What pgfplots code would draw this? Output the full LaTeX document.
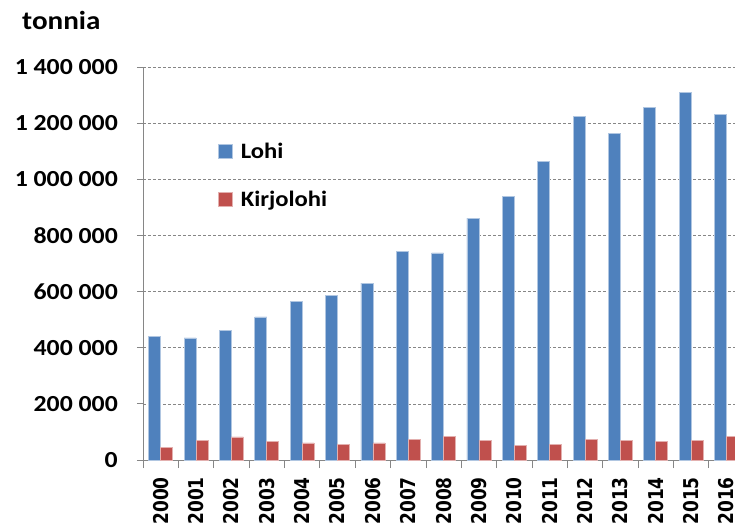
\documentclass[border=0pt]{standalone}
\usepackage{fontspec}
\setmainfont{Carlito}
\newfontfamily\yearfont{DejaVu Sans}
\usepackage{graphicx}
\usepackage{pgfplots}
\pgfplotsset{compat=1.18}
\definecolor{lohi}{HTML}{4F81BD}
\definecolor{kirjo}{HTML}{C0504D}
\definecolor{axisgray}{HTML}{868686}
\newcommand\sx[1]{\scalebox{1.12}[1]{#1}}
\newcommand\yl[1]{\scalebox{1}[1.2]{#1}}

\begin{document}
\begin{tikzpicture}
\begin{axis}[
  scale only axis, width=592pt, height=393pt,
  ybar=0pt, bar width=12pt,
  xmin=-0.5, xmax=16.24, ymin=0, ymax=1400000,
  scaled y ticks=false,
  axis lines*=left, axis line style={axisgray, line width=0.8pt},
  xtick={0,...,16},
  xticklabels={\yl{2000},\yl{2001},\yl{2002},\yl{2003},\yl{2004},\yl{2005},\yl{2006},\yl{2007},\yl{2008},\yl{2009},\yl{2010},\yl{2011},\yl{2012},\yl{2013},\yl{2014},\yl{2015},\yl{2016}},
  x tick label style={font=\yearfont\bfseries\fontsize{17}{20}\selectfont, rotate=90, anchor=east, inner sep=0pt, xshift=-11pt},
  major x tick style={draw=none},
  minor xtick={-0.5,0.5,...,15.5},
  minor x tick style={axisgray, line width=0.8pt},
  minor tick length=8pt,
  tick align=outside,
  ytick={0,200000,...,1400000},
  yticklabels={\sx{0},\sx{200 000},\sx{400 000},\sx{600 000},\sx{800 000},\sx{1 000 000},\sx{1 200 000},\sx{1 400 000}},
  y tick label style={font=\bfseries\fontsize{23}{27}\selectfont, anchor=east, inner sep=0pt, xshift=-19pt},
  major y tick style={axisgray, line width=0.8pt},
  major tick length=6pt,
  ymajorgrids, grid style={axisgray, densely dashed, line width=0.7pt},
  legend style={at={(0.1267,0.8066)}, anchor=north west, draw=none, fill=none, inner sep=0pt,
    font=\bfseries\fontsize{22}{26}\selectfont, row sep=31pt,
    nodes={inner sep=0pt, anchor=west}},
  legend cell align=left,
  legend image code/.code={\fill[#1] (0pt,-7pt) rectangle (14pt,7pt); \path (22pt,0pt);},
]
\addplot[fill=lohi, draw=lohi!45!white, line width=0.6pt] coordinates {
  (0,440000) (1,435000) (2,463000) (3,510000) (4,564000) (5,587000) (6,630000)
  (7,744000) (8,738000) (9,862000) (10,939000) (11,1065000) (12,1225000)
  (13,1164000) (14,1255000) (15,1309000) (16,1230000)};
\addplot[fill=kirjo, draw=kirjo!45!white, line width=0.6pt] coordinates {
  (0,46000) (1,71000) (2,82000) (3,67000) (4,61000) (5,57000) (6,61000)
  (7,74000) (8,85000) (9,71000) (10,53000) (11,57000) (12,74000)
  (13,71000) (14,67000) (15,71000) (16,85000)};
\legend{\sx{Lohi},\sx{Kirjolohi}}
\end{axis}
\node[anchor=base west, font=\bfseries\fontsize{26}{30}\selectfont, inner sep=0pt] at (-121pt,430pt) {\sx{tonnia}};
\pgfresetboundingbox
\useasboundingbox (-143pt,-67pt) rectangle (592pt,460pt);
\end{tikzpicture}
\end{document}
